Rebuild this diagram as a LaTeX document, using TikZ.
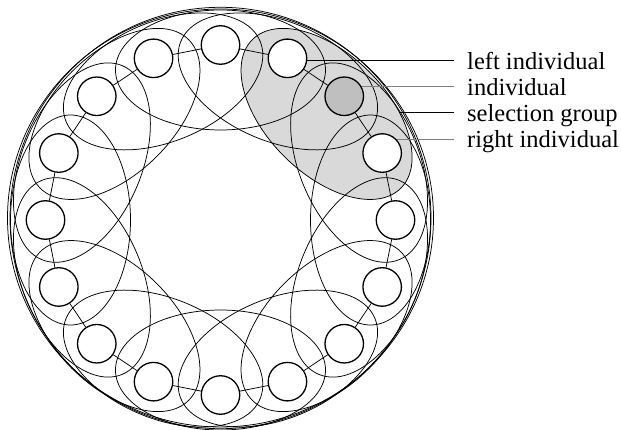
\documentclass[tikz,border=0pt]{standalone}
\usepackage{fontspec}
\setmainfont{Liberation Serif}
\pgfdeclarelayer{ellayer}
\pgfdeclarelayer{linelayer}
\pgfsetlayers{ellayer,linelayer,main}
\definecolor{selfill}{gray}{0.85}
\definecolor{indfill}{gray}{0.75}
\definecolor{leadgray}{gray}{0.5}
\begin{document}
\begin{tikzpicture}[x=1pt,y=1pt,
  indiv/.style={circle, draw, line width=1.3pt, fill=white, minimum size=38.5pt, inner sep=0pt},
  grp/.style={line width=0.75pt},
  link/.style={line width=0.75pt},
  lead/.style={line width=1.1pt, shorten >=13pt},
  lbl/.style={anchor=west, inner sep=0pt, text height=20pt, text depth=2.6pt, font=\fontsize{24.5}{26}\selectfont},
]
\useasboundingbox (0,0) rectangle (621,429);
\coordinate (O) at (220.5,209);
% individuals
\foreach \k in {0,...,15} {
  \pgfmathsetmacro\ang{90-22.5*\k}
  \ifnum\k=2
    \node[indiv, fill=indfill] (c\k) at ([shift={(\ang:175)}]O) {};
  \else
    \node[indiv] (c\k) at ([shift={(\ang:175)}]O) {};
  \fi
}
% labels
\node[lbl] (L1) at (467,368.3) {left individual};
\node[lbl] (L2) at (467,342.3) {individual};
\node[lbl] (L3) at (467,316.3) {selection group};
\node[lbl] (L4) at (467,289.7) {right individual};
\coordinate (selpt) at (399.6,316.3);
\begin{pgfonlayer}{linelayer}
  \foreach \k [evaluate=\k as \j using {int(mod(\k+1,16))}] in {0,...,15}
    \draw[link] (c\k) -- (c\j);
  \draw[lead] (L1.west -| c1.center) -- (L1.west);
  \draw[lead, leadgray] (L2.west -| c2.center) -- (L2.west);
  \draw[lead] (selpt) -- (L3.west);
  \draw[lead, leadgray] (L4.west -| c3.center) -- (L4.west);
\end{pgfonlayer}
\begin{pgfonlayer}{ellayer}
  \fill[selfill] ([shift={(45:150)}]O) circle [x radius=105, y radius=60, rotate=-45];
  \foreach \k in {0,...,15} {
    \pgfmathsetmacro\ang{90-22.5*\k}
    \draw[grp] ([shift={(\ang:150)}]O) circle [x radius=105, y radius=60, rotate=\ang-90];
  }
  \draw[grp] (220.5,211) circle [x radius=213, y radius=209];
  \draw[grp] (220.5,211) circle [x radius=210.5, y radius=210.7];
\end{pgfonlayer}
\end{tikzpicture}
\end{document}
